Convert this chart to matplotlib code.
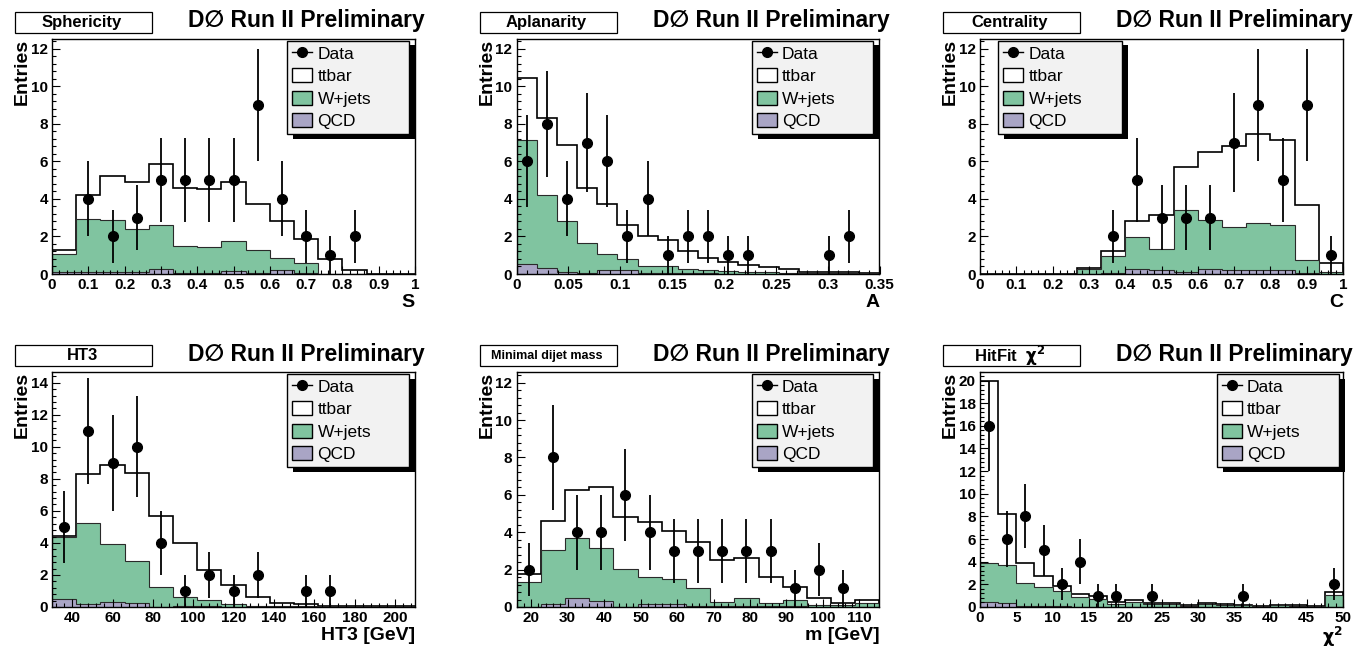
import numpy as np
import matplotlib
matplotlib.use('Agg')
import matplotlib.pyplot as plt
from matplotlib.patches import Patch, Rectangle
from matplotlib.lines import Line2D
from matplotlib.ticker import MultipleLocator, FormatStrFormatter

plt.rcParams['font.family'] = ['Liberation Sans', 'DejaVu Sans']
plt.rcParams['font.weight'] = 'bold'
plt.rcParams['axes.labelweight'] = 'bold'
plt.rcParams['mathtext.default'] = 'bf'

# Sphericity (15 bins, 0..1)
sph_ttbar = [0.2, 1.25, 2.35, 2.5, 3.25, 3.12, 3.13, 3.15, 2.47, 1.94, 1.29, 0.78, 0.22, 0, 0]
sph_wjets = [1.0, 2.85, 2.75, 2.3, 2.33, 1.42, 1.36, 1.6, 1.22, 0.66, 0.52, 0, 0, 0, 0]
sph_qcd = [0.08, 0.1, 0.1, 0.1, 0.27, 0.06, 0.06, 0.15, 0.06, 0.2, 0.04, 0, 0, 0, 0]
sph_data = [0, 4, 2, 3, 5, 5, 5, 5, 9, 4, 2, 1, 2, 0, 0]

# Aplanarity (18 bins, 0..0.35)
apl_ttbar = [3.3, 4.1, 4.05, 2.95, 2.7, 1.8, 1.65, 1.39, 0.98, 0.65, 0.49, 0.38, 0.28, 0.2, 0.07, 0.07, 0.05, 0.03]
apl_wjets = [6.6, 3.9, 2.7, 1.6, 0.85, 0.6, 0.35, 0.4, 0.22, 0.17, 0.12, 0.08, 0.06, 0.04, 0.04, 0.04, 0.02, 0.02]
apl_qcd = [0.55, 0.3, 0.1, 0.05, 0.2, 0.2, 0.05, 0.03, 0.05, 0.03, 0.02, 0.02, 0.02, 0.01, 0.01, 0.01, 0.01, 0.01]
apl_data = [6, 8, 4, 7, 6, 2, 4, 1, 2, 2, 1, 1, 0, 0, 0, 1, 2, 0]

# Centrality (15 bins, 0..1)
cen_ttbar = [0, 0, 0, 0, 0.03, 0.25, 0.85, 1.8, 2.3, 3.6, 4.3, 4.75, 4.55, 2.9, 0.5]
cen_wjets = [0, 0, 0, 0, 0.25, 0.92, 1.7, 1.15, 3.3, 2.65, 2.3, 2.5, 2.4, 0.7, 0.08]
cen_qcd = [0, 0, 0, 0, 0.02, 0.03, 0.25, 0.2, 0.1, 0.25, 0.2, 0.2, 0.2, 0.05, 0.02]
cen_data = [0, 0, 0, 0, 0, 2, 5, 3, 3, 3, 7, 9, 5, 9, 1]

# HT3 (15 bins, 30..210 GeV)
ht3_ttbar = [0.07, 3.05, 4.93, 5.45, 4.43, 3.37, 1.88, 1.21, 0.57, 0.22, 0.12, 0.01, 0, 0, 0]
ht3_wjets = [3.87, 5.05, 3.59, 2.63, 1.22, 0.58, 0.37, 0.14, 0.04, 0.04, 0.04, 0.04, 0.04, 0.04, 0.04]
ht3_qcd = [0.48, 0.2, 0.33, 0.27, 0.0, 0.05, 0.05, 0.03, 0.02, 0.01, 0.01, 0.01, 0.01, 0.01, 0.01]
ht3_data = [5, 11, 9, 10, 4, 1, 2, 1, 2, 0, 1, 1, 0, 0, 0]

# Minimal dijet mass (15 bins, 16..115.5 GeV)
mjj_ttbar = [0.43, 1.54, 2.57, 3.22, 2.77, 2.92, 2.6, 2.46, 2.23, 2.11, 1.4, 0.73, 0.39, 0.13, 0.13]
mjj_wjets = [1.36, 2.9, 3.19, 2.86, 2.0, 1.47, 1.3, 1.01, 0.26, 0.45, 0.18, 0.31, 0.09, 0.08, 0.21]
mjj_qcd = [0.0, 0.14, 0.5, 0.32, 0.02, 0.14, 0.18, 0.03, 0.03, 0.05, 0.05, 0.05, 0.02, 0.02, 0.02]
mjj_data = [2, 8, 4, 4, 6, 4, 3, 3, 3, 3, 3, 1, 2, 1, 0]

# HitFit chi2 (20 bins, 0..50)
chi_ttbar = [16.1, 4.56, 1.81, 0.98, 0.44, 0.3, 0.29, 0.18, 0.12, 0.09, 0.08, 0.03, 0.03, 0.04, 0.03, 0.02, 0.03, 0.03, 0.02, 0.26]
chi_wjets = [3.43, 3.3, 2.0, 1.7, 1.36, 0.86, 0.66, 0.27, 0.45, 0.27, 0.28, 0.11, 0.28, 0.19, 0.14, 0.06, 0.14, 0.11, 0.06, 1.04]
chi_qcd = [0.47, 0.38, 0.09, 0.06, 0.05, 0.02, 0.02, 0.02, 0.02, 0.02, 0.02, 0.01, 0.01, 0.01, 0.01, 0.01, 0.01, 0.01, 0.01, 0.02]
chi_data = [16, 6, 8, 5, 2, 4, 1, 1, 0, 1, 0, 0, 0, 0, 1, 0, 0, 0, 0, 2]

GREEN = '#80C4A0'
PURPLE = '#A9A5C5'
LEGEND_BG = '#F2F2F2'

# title, title size, xlabel, (xlo, xhi), ymax, x major/minor, y major, legend left/right, series
PANELS = [
    ('Sphericity', 12, 'S', (0, 1), 12.54, 0.1, 0.02, 2, (0.648, 0.983),
     sph_ttbar, sph_wjets, sph_qcd, sph_data),
    ('Aplanarity', 12, 'A', (0, 0.35), 12.54, 0.05, 0.01, 2, (0.648, 0.983),
     apl_ttbar, apl_wjets, apl_qcd, apl_data),
    ('Centrality', 12, 'C', (0, 1), 12.54, 0.1, 0.02, 2, (0.050, 0.390),
     cen_ttbar, cen_wjets, cen_qcd, cen_data),
    ('HT3', 12, 'HT3 [GeV]', (30, 210), 14.7, 20, 4, 2, (0.648, 0.983),
     ht3_ttbar, ht3_wjets, ht3_qcd, ht3_data),
    ('Minimal dijet mass', 9, 'm [GeV]', (16, 115.5), 12.6, 10, 2, 2, (0.648, 0.983),
     mjj_ttbar, mjj_wjets, mjj_qcd, mjj_data),
    (r'HitFit  $\chi^{2}$', 12, r'$\chi^{2}$', (0, 50), 20.8, 5, 1, 2, (0.652, 0.988),
     chi_ttbar, chi_wjets, chi_qcd, chi_data),
]

W, H = 1370, 648
AX_W, AX_H = 363, 235.5
LEFTS = [52, 516.5, 980]
TOPS = [38.5, 371.5]

fig = plt.figure(figsize=(W / 100, H / 100), dpi=100)

axes = []
for i, (title, tsize, xlabel, xr, ymax, xmaj, xmin, ymaj, legx,
        ttbar, wjets, qcd, data) in enumerate(PANELS):
    left = LEFTS[i % 3]
    top = TOPS[i // 3]
    ax = fig.add_axes([left / W, 1 - (top + AX_H) / H, AX_W / W, AX_H / H])

    ttbar = np.array(ttbar)
    wjets = np.array(wjets)
    qcd = np.array(qcd)
    data = np.array(data, dtype=float)
    edges = np.linspace(xr[0], xr[1], len(data) + 1)
    centers = 0.5 * (edges[1:] + edges[:-1])

    # stacked histograms, drawn from the top of the stack down
    ax.stairs(qcd + wjets + ttbar, edges, fill=True, facecolor='white',
              edgecolor='black', linewidth=1.2)
    ax.stairs(qcd + wjets, edges, fill=True, facecolor=GREEN,
              edgecolor='#2a2a2a', linewidth=0.8)
    ax.stairs(qcd, edges, fill=True, facecolor=PURPLE,
              edgecolor='#2a2a2a', linewidth=0.8)

    m = data > 0
    ax.errorbar(centers[m], data[m], yerr=np.sqrt(data[m]), fmt='o',
                color='black', ms=7, elinewidth=1.3, capsize=0)

    ax.set_xlim(xr)
    ax.set_ylim(0, ymax)
    ax.xaxis.set_major_locator(MultipleLocator(xmaj))
    ax.xaxis.set_minor_locator(MultipleLocator(xmin))
    ax.yaxis.set_major_locator(MultipleLocator(ymaj))
    ax.yaxis.set_minor_locator(MultipleLocator(ymaj / 5))
    ax.xaxis.set_major_formatter(FormatStrFormatter('%g'))
    ax.yaxis.set_major_formatter(FormatStrFormatter('%g'))
    ax.tick_params(which='both', direction='in', top=False, right=False,
                   width=0.8, labelsize=11, pad=3)
    ax.tick_params(which='major', length=6)
    ax.tick_params(which='minor', length=3)
    for sp in ax.spines.values():
        sp.set_linewidth(1.0)

    ax.set_ylabel('Entries', fontsize=14, loc='top')
    ax.yaxis.set_label_coords(-0.058, 1.0)
    if '$' in xlabel:
        ax.set_xlabel(xlabel, fontsize=12.5, loc='right')
        ax.xaxis.set_label_coords(1.0, -0.078)
    else:
        ax.set_xlabel(xlabel, fontsize=14, loc='right')
        ax.xaxis.set_label_coords(1.0, -0.085)

    ax.text(1 + 10 / AX_W, 1 + 11 / AX_H, 'D\u2205 Run II Preliminary',
            transform=ax.transAxes, ha='right', va='baseline', fontsize=16.5)
    ax.add_patch(Rectangle((-37 / AX_W, 1 + 5.7 / AX_H), 137 / AX_W, 20.6 / AX_H,
                           transform=ax.transAxes, facecolor='white',
                           edgecolor='black', linewidth=0.9, clip_on=False))
    ax.text(30 / AX_W, 1 + 16 / AX_H, title, transform=ax.transAxes,
            ha='center', va='center', fontsize=tsize)

    handles = [Line2D([0], [0], color='black', marker='o', ms=7, lw=1),
               Patch(facecolor='white', edgecolor='black', linewidth=1),
               Patch(facecolor=GREEN, edgecolor='black', linewidth=1),
               Patch(facecolor=PURPLE, edgecolor='black', linewidth=1)]
    leg = ax.legend(handles, ['Data', 'ttbar', 'W+jets', 'QCD'],
                    loc='upper left',
                    bbox_to_anchor=(legx[0], 1 - 2 / AX_H, legx[1] - legx[0], 0),
                    mode='expand', borderaxespad=0, borderpad=0.3,
                    labelspacing=0.38, handlelength=1.15, handleheight=0.85,
                    handletextpad=0.3, fancybox=False, framealpha=1,
                    facecolor=LEGEND_BG, edgecolor='black',
                    prop={'size': 12.5, 'weight': 'normal'})
    leg.get_frame().set_linewidth(1.0)
    axes.append((ax, leg))

fig.canvas.draw()
for ax, leg in axes:
    # bold tick labels like the ROOT axis font
    for lab in ax.get_xticklabels() + ax.get_yticklabels():
        lab.set_fontweight('bold')
    # ROOT-style hard shadow behind each legend box
    bb = leg.get_window_extent().transformed(ax.transAxes.inverted())
    ax.add_patch(Rectangle((bb.x0 + 6 / AX_W, bb.y0 - 5 / AX_H), bb.width, bb.height,
                           transform=ax.transAxes, facecolor='black',
                           edgecolor='none', zorder=4.5, clip_on=False))

fig.savefig('out.png', dpi=100)
